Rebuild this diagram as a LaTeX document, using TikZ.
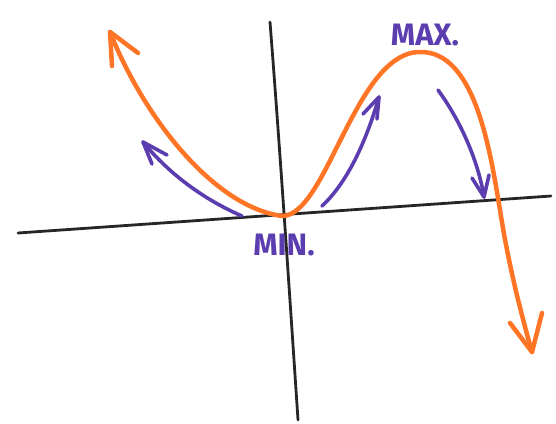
\documentclass[tikz,border=0pt]{standalone}
\usepackage{fontspec}
\setmainfont{Fira Sans}
\definecolor{curveorange}{HTML}{FF7525}
\definecolor{arrowpurple}{HTML}{5B3DB0}
\tikzset{
  axisline/.style={line width=2.8pt, black!85, line cap=round},
  curveline/.style={line width=4.5pt, curveorange, line cap=round, line join=round},
  purpleline/.style={line width=3.6pt, arrowpurple, line cap=round, line join=round},
  labeltext/.style={text=arrowpurple, font=\fontsize{31}{33}\selectfont\bfseries, inner sep=0pt}
}
\begin{document}
\begin{tikzpicture}[x=1pt,y=-1pt]
\useasboundingbox (0,0) rectangle (556,423);
% axes
\coordinate (xl) at (18,233);
\coordinate (xr) at (551,196);
\coordinate (yt) at (270,22);
\coordinate (yb) at (298,420);
\draw[axisline] (xl) -- (xr);
\draw[axisline] (yt) .. controls (280,150) and (290,300) .. (yb);
% curve
\coordinate (ctop) at (110,32);
\coordinate (cmin) at (282,216);
\coordinate (cmax) at (420,52);
\coordinate (ccross) at (500,210);
\coordinate (cbot) at (532,352);
\draw[curveline] (ctop) .. controls (145,120) and (215,207) .. (cmin)
  .. controls (327,216) and (355,52) .. (cmax)
  .. controls (475,51) and (490,150) .. (ccross)
  .. controls (508,262) and (520,310) .. (cbot);
\draw[curveline] (112,66) -- (ctop) -- (138,53);
\draw[curveline] (510,323) -- (cbot) -- (542,313);
% purple arrows
\coordinate (a1s) at (242,216);
\coordinate (a1e) at (143,142);
\coordinate (a2s) at (322,206);
\coordinate (a2e) at (379,97);
\coordinate (a3s) at (438,90);
\coordinate (a3e) at (484,197);
\draw[purpleline] (a1s) .. controls (205,200) and (170,175) .. (a1e);
\draw[purpleline] (152,164) -- (a1e) -- (167,155);
\draw[purpleline] (a2s) .. controls (350,180) and (368,135) .. (a2e);
\draw[purpleline] (363,114) -- (a2e) -- (377,119);
\draw[purpleline] (a3s) .. controls (460,120) and (478,160) .. (a3e);
\draw[purpleline] (472,178) -- (a3e) -- (489,175);
% labels
\node[labeltext] (max) at (425,35) {MAX.};
\node[labeltext] (min) at (284,245) {MIN.};
\end{tikzpicture}
\end{document}
